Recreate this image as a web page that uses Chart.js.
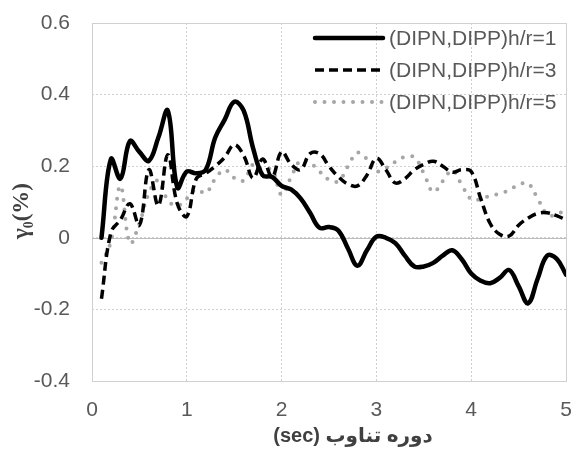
<!DOCTYPE html>
<html>
<head>
<meta charset="utf-8">
<script src="https://cdn.jsdelivr.net/npm/chart.js@4"></script>
<style>
  html, body { margin: 0; padding: 0; background: #fff; }
  #wrap { width: 574px; height: 452px; }
</style>
</head>
<body>
<div id="wrap"><canvas id="chart" width="574" height="452"></canvas></div>
<script>
// =====================
// Data
// =====================
const periods = [
  0.1, 0.2, 0.3, 0.4, 0.5, 0.6, 0.7, 0.8, 0.9, 1.0,
  1.1, 1.2, 1.3, 1.4, 1.5, 1.6, 1.7, 1.8, 1.9, 2.0,
  2.1, 2.2, 2.3, 2.4, 2.5, 2.6, 2.7, 2.8, 2.9, 3.0,
  3.1, 3.2, 3.3, 3.4, 3.5, 3.6, 3.7, 3.8, 3.9, 4.0,
  4.1, 4.2, 4.3, 4.4, 4.5, 4.6, 4.7, 4.8, 4.9, 5.0
]

const hr1 = [
  0.0, 0.22, 0.165, 0.27, 0.24, 0.215, 0.28, 0.355, 0.14, 0.185,
  0.18, 0.19, 0.28, 0.33, 0.38, 0.355, 0.25, 0.175, 0.17, 0.145,
  0.135, 0.11, 0.07, 0.028, 0.03, 0.02, -0.03, -0.078, -0.035, 0.003,
  0.0, -0.015, -0.05, -0.08, -0.08, -0.07, -0.05, -0.035, -0.06, -0.1,
  -0.12, -0.127, -0.112, -0.09, -0.135, -0.183, -0.115, -0.05, -0.058, -0.103
]

const hr3 = [
  -0.17, 0.015, 0.05, 0.095, 0.035, 0.19, 0.09, 0.232, 0.095, 0.06,
  0.165, 0.18, 0.2, 0.225, 0.26, 0.23, 0.167, 0.22, 0.17, 0.24,
  0.205, 0.19, 0.235, 0.235, 0.2, 0.17, 0.15, 0.145, 0.175, 0.222,
  0.19, 0.153, 0.165, 0.19, 0.205, 0.214, 0.2, 0.183, 0.19, 0.185,
  0.11, 0.04, 0.01, 0.005, 0.035, 0.055, 0.068, 0.07, 0.062, 0.05
]

const hr5 = [
  -0.07, -0.01, 0.145, -0.015, 0.04, 0.125, 0.16, 0.105, 0.09, 0.11,
  0.135, 0.125, 0.165, 0.19, 0.167, 0.16, 0.205, 0.19, 0.19, 0.12,
  0.17, 0.216, 0.21, 0.185, 0.162, 0.158, 0.2, 0.238, 0.22, 0.186,
  0.195, 0.212, 0.226, 0.225, 0.18, 0.128, 0.158, 0.188, 0.148, 0.108,
  0.108, 0.118, 0.123, 0.133, 0.148, 0.152, 0.11, 0.066, 0.064, 0.082
]

const seriesNames = ["(DIPN,DIPP)h/r=1", "(DIPN,DIPP)h/r=3", "(DIPN,DIPP)h/r=5"]
const xTitle = "(sec) دوره تناوب"
const yTitle = "γ₀(%)"

const toPoints = vals => vals.map((v, i) => ({ x: periods[i], y: v }))


// =====================
// Plugins: frame, zero line, legend, axis titles
// =====================
const frame = {
  id: "frame",
  beforeDatasetsDraw(chart) {
    const { ctx, chartArea: a, scales } = chart
    ctx.save()
    ctx.strokeStyle = "#d0d0d0"
    ctx.lineWidth = 1
    ctx.strokeRect(a.left + 0.5, a.top + 0.5, a.right - a.left, a.bottom - a.top)
    const y0 = Math.round(scales.y.getPixelForValue(0)) + 0.5
    ctx.strokeStyle = "#bcbcbc"
    ctx.beginPath()
    ctx.moveTo(a.left, y0)
    ctx.lineTo(a.right, y0)
    ctx.stroke()
    ctx.restore()
  }
}

const legendBox = {
  id: "legendBox",
  afterDraw(chart) {
    const { ctx } = chart
    ctx.save()
    chart.data.datasets.forEach((ds, i) => {
      const y = 38 + i * 32
      ctx.strokeStyle = ds.borderColor
      ctx.lineWidth = ds.borderWidth
      ctx.lineCap = ds.borderCapStyle || "butt"
      ctx.setLineDash(ds.borderDash || [])
      ctx.beginPath()
      ctx.moveTo(315, y)
      ctx.lineTo(383, y)
      ctx.stroke()
      ctx.setLineDash([])
      ctx.fillStyle = "#595959"
      ctx.font = "21px 'Liberation Sans', Arial, sans-serif"
      ctx.textBaseline = "middle"
      ctx.textAlign = "left"
      ctx.fillText(ds.label, 389, y + 1)
    })
    ctx.restore()
  }
}

const axisTitles = {
  id: "axisTitles",
  afterDraw(chart) {
    const { ctx } = chart
    ctx.save()
    ctx.fillStyle = "#404040"
    ctx.textAlign = "center"
    ctx.textBaseline = "middle"
    ctx.font = "bold 20px 'Liberation Sans', 'DejaVu Sans', sans-serif"
    ctx.fillText(xTitle, 353, 436)

    ctx.translate(22, 211)
    ctx.rotate(-Math.PI / 2)
    ctx.font = "bold 23px 'Liberation Serif', 'DejaVu Serif', serif"
    ctx.fillText(yTitle, 0, 0)
    ctx.restore()
  }
}


// =====================
// Build chart
// =====================
const tickFont = { family: "'Liberation Sans', Arial, sans-serif", size: 21 }

new Chart(document.getElementById("chart"), {
  type: "line",
  data: {
    datasets: [
      {
        label: seriesNames[0],
        data: toPoints(hr1),
        borderColor: "#000000",
        borderWidth: 4.5,
        borderCapStyle: "round",
        tension: 0.4,
        pointRadius: 0,
        fill: false
      },
      {
        label: seriesNames[1],
        data: toPoints(hr3),
        borderColor: "#000000",
        borderWidth: 3.5,
        borderDash: [9, 5],
        tension: 0.4,
        pointRadius: 0,
        fill: false
      },
      {
        label: seriesNames[2],
        data: toPoints(hr5),
        borderColor: "#a6a6a6",
        borderWidth: 4,
        borderDash: [0, 9.5],
        borderCapStyle: "round",
        tension: 0.4,
        pointRadius: 0,
        fill: false
      }
    ]
  },
  options: {
    animation: false,
    responsive: false,
    devicePixelRatio: 1,
    layout: { padding: { left: 0, right: 8, top: 23, bottom: 0 } },
    plugins: {
      legend: { display: false },
      tooltip: { enabled: false }
    },
    scales: {
      x: {
        type: "linear",
        min: 0,
        max: 5,
        ticks: { stepSize: 1, color: "#595959", font: tickFont, padding: 0, maxRotation: 0 },
        grid: { color: "#d0d0d0", drawTicks: true, tickLength: 17, tickColor: "rgba(0,0,0,0)" },
        border: { display: false, dash: [2, 2] },
        afterFit: s => { s.height = 71 }
      },
      y: {
        min: -0.4,
        max: 0.6,
        ticks: {
          stepSize: 0.2,
          color: "#595959",
          font: tickFont,
          padding: 0,
          callback: v => String(Number(v.toFixed(1)))
        },
        grid: { color: "#d0d0d0", drawTicks: true, tickLength: 22, tickColor: "rgba(0,0,0,0)" },
        border: { display: false, dash: [2, 2] },
        afterFit: s => { s.width = 92 }
      }
    }
  },
  plugins: [frame, legendBox, axisTitles]
})
</script>
</body>
</html>
